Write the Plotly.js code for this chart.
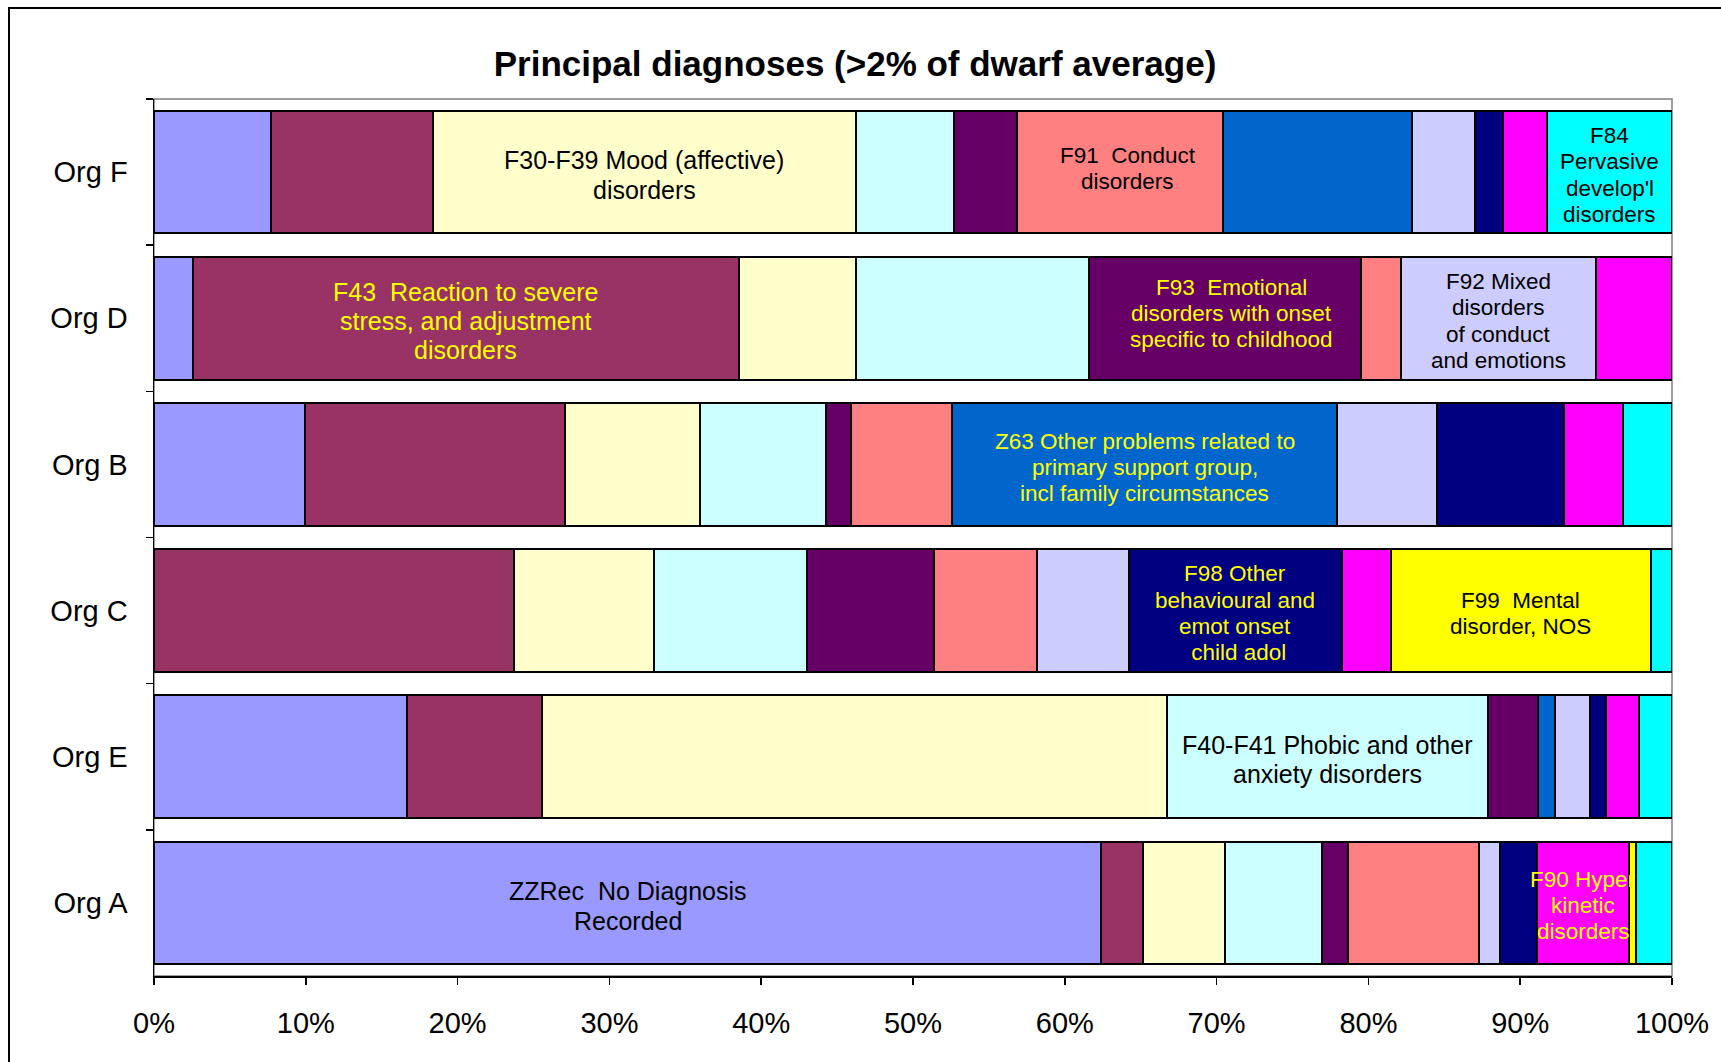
<!DOCTYPE html>
<html>
<head>
<meta charset="utf-8">
<script src="https://cdn.plot.ly/plotly-3.0.1.min.js"></script>
<style>
  html, body { margin: 0; padding: 0; background: #ffffff; }
  #chart { width: 1721px; height: 1062px; }
</style>
</head>
<body>
<div id="chart"></div>
<script>
// ---------- DATA ----------
const orgs = ['Org F', 'Org D', 'Org B', 'Org C', 'Org E', 'Org A'];
const seriesNames = ['ZZRec', 'F43', 'F30-F39', 'F40-F41', 'F93', 'F91', 'Z63', 'F92', 'F98', 'F90', 'F99', 'F84'];

const ZZRec   = [7.69, 2.58, 9.95, null, 16.69, 62.39];
const F43     = [10.68, 35.94, 17.15, 23.70, 8.89, 2.78];
const F30_F39 = [27.85, 7.70, 8.87, 9.26, 41.15, 5.40];
const F40_F41 = [6.46, 15.36, 8.28, 10.06, 21.12, 6.37];
const F93     = [4.18, 17.95, 1.65, 8.34, 3.33, 1.69];
const F91     = [13.58, 2.59, 6.66, 6.82, null, 8.64];
const Z63     = [12.46, null, 25.39, null, 1.10, null];
const F92     = [4.14, 12.85, 6.60, 6.05, 2.30, 1.39];
const F98     = [1.85, null, 8.35, 14.01, 1.07, 2.45];
const F90     = [2.88, 5.03, 3.85, 3.24, 2.20, 6.06];
const F99     = [null, null, null, 17.11, null, 0.48];
const F84     = [8.23, null, 3.25, 1.41, 2.15, 2.35];

const seriesValues = [ZZRec, F43, F30_F39, F40_F41, F93, F91, Z63, F92, F98, F90, F99, F84];

const xTickValues = [0, 10, 20, 30, 40, 50, 60, 70, 80, 90, 100];
const xTickLabels = ['0%', '10%', '20%', '30%', '40%', '50%', '60%', '70%', '80%', '90%', '100%'];

// Segment labels (which series, which org, text lines)
const labelSeries = ['F30-F39', 'F91', 'F84', 'F43', 'F93', 'F92', 'Z63', 'F98', 'F99', 'F40-F41', 'ZZRec', 'F90'];
const labelOrg    = ['Org F', 'Org F', 'Org F', 'Org D', 'Org D', 'Org D', 'Org B', 'Org C', 'Org C', 'Org E', 'Org A', 'Org A'];
const labelText = [
  ['F30-F39 Mood (affective)', 'disorders'],
  ['F91  Conduct', 'disorders'],
  ['F84', 'Pervasive', "develop'l", 'disorders'],
  ['F43  Reaction to severe', 'stress, and adjustment', 'disorders'],
  ['F93  Emotional', 'disorders with onset', 'specific to childhood'],
  ['F92 Mixed', 'disorders', 'of conduct', 'and emotions'],
  ['Z63 Other problems related to', 'primary support group,', 'incl family circumstances'],
  ['F98 Other', 'behavioural and', 'emot onset', ' child adol'],
  ['F99  Mental', 'disorder, NOS'],
  ['F40-F41 Phobic and other', 'anxiety disorders'],
  ['ZZRec  No Diagnosis', 'Recorded'],
  ['F90 Hyper', 'kinetic', 'disorders']
];

// ---------- STYLE ----------
const seriesColors = {
  'ZZRec': '#9999FF', 'F43': '#993366', 'F30-F39': '#FFFFCC', 'F40-F41': '#CCFFFF',
  'F93': '#660066', 'F91': '#FF8080', 'Z63': '#0066CC', 'F92': '#CCCCFF',
  'F98': '#000080', 'F90': '#FF00FF', 'F99': '#FFFF00', 'F84': '#00FFFF'
};
// size, colour and small pixel nudges of each label box
const labelStyle = {
  'F30-F39': {size: 25,   color: '#000000', dx: 0, dy: 0, gap: 1.2},
  'F91':     {size: 22.5, color: '#000000', dx: 7.5, dy: -6.5, gap: 1.13},
  'F84':     {size: 22.5, color: '#000000', dx: 0, dy: 0, gap: 1.18},
  'F43':     {size: 25,   color: '#FFFF00', dx: 0, dy: 0, gap: 1.17},
  'F93':     {size: 22.5, color: '#FFFF00', dx: 6.5, dy: -7.5, gap: 1.16},
  'F92':     {size: 22.5, color: '#000000', dx: 0, dy: 0, gap: 1.18},
  'Z63':     {size: 22.5, color: '#FFFF00', dx: 0, dy: 0, gap: 1.16},
  'F98':     {size: 22.5, color: '#FFFF00', dx: 0, dy: 0, gap: 1.17},
  'F99':     {size: 22.5, color: '#000000', dx: 0, dy: 0, gap: 1.13},
  'F40-F41': {size: 25,   color: '#000000', dx: 0, dy: 0, gap: 1.19},
  'ZZRec':   {size: 25,   color: '#000000', dx: 0, dy: 0, gap: 1.19},
  'F90':     {size: 22.5, color: '#FFFF00', dx: 0, dy: 0, gap: 1.16}
};
const LABEL_DROP = 2.8; // all labels sit slightly below bar centre
const FONT = '"Liberation Sans", Arial, sans-serif';

// ---------- TRACES ----------
const traces = seriesNames.map((name, i) => ({
  type: 'bar',
  orientation: 'h',
  name: name,
  y: orgs,
  x: seriesValues[i],
  marker: {color: seriesColors[name], line: {color: '#000000', width: 2}},
  hoverinfo: 'name+x'
}));

// ---------- ANNOTATIONS (centres computed from the data) ----------
const annotations = [];
labelSeries.forEach((sName, k) => {
  const sIdx = seriesNames.indexOf(sName);
  const oIdx = orgs.indexOf(labelOrg[k]);
  let start = 0;
  for (let j = 0; j < sIdx; j++) start += (seriesValues[j][oIdx] || 0);
  const centre = start + seriesValues[sIdx][oIdx] / 2;
  const st = labelStyle[sName];
  const lines = labelText[k];
  const spacing = st.size * st.gap;
  lines.forEach((ln, li) => {
    annotations.push({
      x: centre, y: labelOrg[k], xref: 'x', yref: 'y',
      text: ln, showarrow: false,
      xanchor: 'center', yanchor: 'middle',
      xshift: st.dx,
      yshift: ((lines.length - 1) / 2 - li) * spacing - st.dy - LABEL_DROP,
      font: {family: FONT, size: st.size, color: st.color}
    });
  });
});

// ---------- LAYOUT ----------
const W = 1721, H = 1062;
const M = {l: 154, r: 49, t: 99, b: 86};
const pw = W - M.l - M.r, ph = H - M.t - M.b;
const px2x = p => (p - M.l) / pw;
const py2y = p => 1 - (p - M.t) / ph;

const layout = {
  width: W, height: H,
  margin: M,
  paper_bgcolor: '#ffffff',
  plot_bgcolor: '#ffffff',
  barmode: 'stack',
  bargap: 0.16,
  showlegend: false,
  font: {family: FONT, color: '#000000'},
  title: {
    text: '<b>Principal diagnoses (&gt;2% of dwarf average)</b>',
    font: {family: FONT, size: 35, color: '#000000'},
    x: 855 / W, xref: 'container', xanchor: 'center',
    y: 1 - 64 / H, yref: 'container', yanchor: 'middle'
  },
  xaxis: {
    range: [0, 100],
    tickvals: xTickValues,
    ticktext: xTickLabels,
    tickfont: {family: FONT, size: 29, color: '#000000'},
    showgrid: false, zeroline: false,
    showline: true, linecolor: '#000000', linewidth: 1.5,
    ticks: 'outside', ticklen: 7, tickcolor: '#000000', tickwidth: 1.5,
    ticklabelstandoff: 14,
    fixedrange: true
  },
  yaxis: {
    type: 'category',
    autorange: 'reversed',
    tickfont: {family: FONT, size: 29, color: '#000000'},
    showgrid: false, zeroline: false,
    showline: true, linecolor: '#000000', linewidth: 1.5,
    ticks: 'outside', ticklen: 7, tickcolor: '#000000', tickwidth: 1.5,
    tickson: 'boundaries',
    ticklabelstandoff: 19,
    fixedrange: true
  },
  annotations: annotations,
  shapes: [
    // plot-area border (grey)
    {type: 'rect', xref: 'paper', yref: 'paper', x0: 0, x1: 1, y0: 0, y1: 1,
     line: {color: '#808080', width: 1.5}, fillcolor: 'rgba(0,0,0,0)', layer: 'below'},
    // outer chart frame
    {type: 'rect', xref: 'paper', yref: 'paper',
     x0: px2x(9), x1: px2x(W + 20), y0: py2y(H + 20), y1: py2y(8),
     line: {color: '#000000', width: 2}, fillcolor: 'rgba(0,0,0,0)', layer: 'below'}
  ]
};

Plotly.newPlot('chart', traces, layout, {displayModeBar: false, staticPlot: true});
</script>
</body>
</html>
